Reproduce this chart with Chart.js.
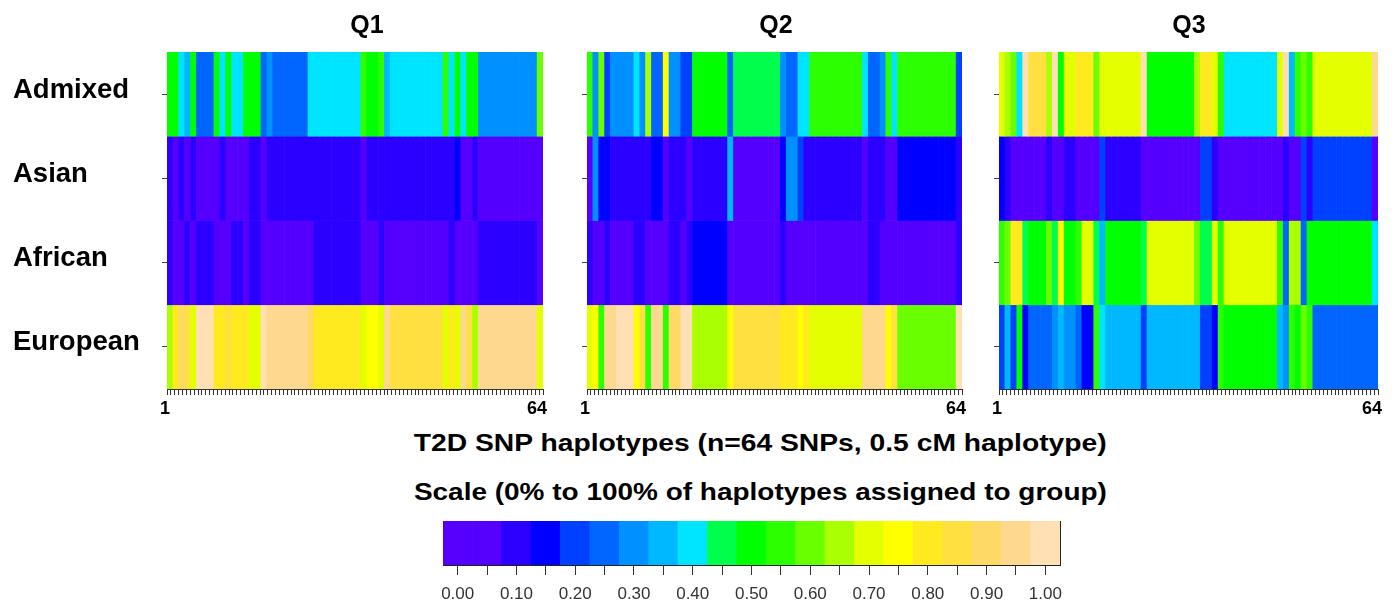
<!DOCTYPE html>
<html><head><meta charset="utf-8">
<script src="https://cdn.jsdelivr.net/npm/chart.js@4.4.1/dist/chart.umd.min.js"></script>
<style>
html,body{margin:0;padding:0;background:#fff;}
body{width:1394px;height:607px;position:relative;overflow:hidden;font-family:'Liberation Sans',Arial,sans-serif;}
canvas{position:absolute;}
.t{position:absolute;font-weight:bold;white-space:nowrap;text-align:center;color:#000;}
.t span{display:inline-block;}
</style></head><body>
<canvas id="q1" width="559" height="425" style="left:0px;top:0px"></canvas>
<canvas id="q2" width="404" height="425" style="left:574px;top:0px"></canvas>
<canvas id="q3" width="408" height="425" style="left:986px;top:0px"></canvas>
<canvas id="cb" width="650" height="96" style="left:430px;top:511px"></canvas>
<div class="t" style="left:267px;width:200px;top:12px;font-size:25px;line-height:25px">Q1</div>
<div class="t" style="left:676px;width:200px;top:12px;font-size:25px;line-height:25px">Q2</div>
<div class="t" style="left:1089px;width:200px;top:12px;font-size:25px;line-height:25px">Q3</div>
<div class="t" style="left:260px;width:1000px;top:431px;font-size:24px;line-height:24px"><span class="fit">T2D SNP haplotypes (n=64 SNPs, 0.5 cM haplotype)</span></div>
<div class="t" style="left:260px;width:1000px;top:480px;font-size:24px;line-height:24px"><span class="fit">Scale (0% to 100% of haplotypes assigned to group)</span></div>
<script>
// ---- data ----
const rowNames = ['Admixed', 'Asian', 'African', 'European'];
const snpLabels = Array.from({length: 64}, (_, i) => String(i + 1));
const snpTickLabels = ['1', '64'];

const q1Admixed = [0.50,0.50,0.40,0.35,0.50,0.25,0.25,0.25,0.50,0.40, 0.50,0.40,0.40,0.50,0.50,0.50,0.25,0.30,0.25,0.25, 0.25,0.25,0.25,0.25,0.40,0.40,0.40,0.40,0.40,0.40, 0.40,0.40,0.40,0.55,0.50,0.50,0.55,0.35,0.40,0.40, 0.40,0.40,0.40,0.40,0.40,0.40,0.40,0.55,0.40,0.50, 0.40,0.50,0.50,0.30,0.30,0.30,0.30,0.30,0.30,0.30, 0.30,0.30,0.30,0.60];
const q1Asian = [0.10,0.05,0.10,0.05,0.10,0.05,0.05,0.05,0.05,0.10, 0.05,0.05,0.05,0.05,0.10,0.10,0.05,0.10,0.10,0.10, 0.10,0.10,0.10,0.10,0.10,0.10,0.10,0.10,0.10,0.10, 0.10,0.10,0.10,0.05,0.10,0.10,0.10,0.10,0.10,0.10, 0.10,0.10,0.10,0.10,0.10,0.10,0.10,0.10,0.10,0.15, 0.05,0.05,0.10,0.05,0.05,0.05,0.05,0.05,0.05,0.05, 0.05,0.05,0.05,0.05];
const q1African = [0.10,0.05,0.05,0.10,0.05,0.10,0.10,0.10,0.05,0.05, 0.05,0.10,0.10,0.05,0.10,0.10,0.05,0.05,0.05,0.05, 0.05,0.05,0.05,0.05,0.05,0.10,0.10,0.10,0.10,0.10, 0.10,0.10,0.10,0.05,0.05,0.05,0.10,0.05,0.05,0.05, 0.05,0.05,0.05,0.05,0.05,0.05,0.05,0.05,0.10,0.05, 0.05,0.05,0.05,0.10,0.10,0.10,0.10,0.10,0.10,0.10, 0.10,0.10,0.10,0.05];
const q1European = [0.65,0.80,0.90,0.85,0.70,1.00,1.00,1.00,0.80,0.80, 0.85,0.80,0.80,0.80,0.70,0.70,1.00,0.95,0.95,0.95, 0.95,0.95,0.95,0.95,0.90,0.80,0.80,0.80,0.80,0.80, 0.80,0.80,0.80,0.70,0.75,0.75,0.70,0.95,0.85,0.85, 0.85,0.85,0.85,0.85,0.85,0.85,0.85,0.70,0.80,0.70, 0.95,0.85,0.65,0.95,0.95,0.95,0.95,0.95,0.95,0.95, 0.95,0.95,0.95,0.70];

const q2Admixed = [0.55,0.30,0.60,0.20,0.30,0.30,0.30,0.30,0.40,0.30, 0.65,0.25,0.25,0.75,0.30,0.30,0.20,0.20,0.50,0.50, 0.50,0.50,0.50,0.50,0.25,0.45,0.45,0.45,0.45,0.45, 0.45,0.45,0.45,0.30,0.25,0.25,0.40,0.40,0.55,0.55, 0.55,0.55,0.55,0.55,0.55,0.55,0.55,0.40,0.25,0.25, 0.30,0.55,0.40,0.55,0.55,0.55,0.55,0.55,0.55,0.55, 0.55,0.55,0.55,0.20];
const q2Asian = [0.05,0.30,0.15,0.15,0.10,0.10,0.10,0.10,0.10,0.10, 0.10,0.15,0.15,0.05,0.10,0.10,0.10,0.05,0.10,0.10, 0.10,0.10,0.10,0.10,0.35,0.05,0.05,0.05,0.05,0.05, 0.05,0.05,0.05,0.15,0.30,0.30,0.20,0.10,0.10,0.10, 0.10,0.10,0.10,0.10,0.10,0.10,0.10,0.05,0.10,0.10, 0.10,0.05,0.05,0.15,0.15,0.15,0.15,0.15,0.15,0.15, 0.15,0.15,0.15,0.10];
const q2African = [0.10,0.05,0.05,0.10,0.05,0.05,0.05,0.05,0.10,0.10, 0.05,0.05,0.05,0.05,0.10,0.10,0.05,0.10,0.15,0.15, 0.15,0.15,0.15,0.15,0.05,0.05,0.05,0.05,0.05,0.05, 0.05,0.05,0.05,0.10,0.05,0.05,0.05,0.05,0.05,0.05, 0.05,0.05,0.05,0.05,0.05,0.05,0.05,0.05,0.10,0.10, 0.05,0.05,0.05,0.05,0.05,0.05,0.05,0.05,0.05,0.05, 0.05,0.05,0.05,0.10];
const q2European = [0.70,0.75,0.55,0.95,0.95,1.00,1.00,1.00,0.75,0.85, 0.55,0.95,0.95,0.55,0.90,0.90,1.00,1.00,0.65,0.65, 0.65,0.65,0.65,0.65,0.75,0.85,0.85,0.85,0.85,0.85, 0.85,0.85,0.85,0.80,0.80,0.80,0.75,0.80,0.70,0.70, 0.70,0.70,0.70,0.70,0.70,0.70,0.70,0.95,0.95,0.95, 0.95,0.75,0.85,0.60,0.60,0.60,0.60,0.60,0.60,0.60, 0.60,0.60,0.60,1.00];

const q3Admixed = [0.70,0.65,0.60,0.40,1.00,0.85,0.85,0.85,0.65,1.00, 0.50,0.70,0.70,0.80,0.80,0.80,0.60,0.70,0.70,0.70, 0.70,0.70,0.70,0.70,1.00,0.50,0.50,0.50,0.50,0.50, 0.50,0.50,0.50,0.65,0.80,0.80,0.70,0.55,0.40,0.40, 0.40,0.40,0.40,0.40,0.40,0.40,0.40,0.70,1.00,0.35, 0.55,0.60,0.55,0.70,0.70,0.70,0.70,0.70,0.70,0.70, 0.70,0.70,0.70,0.95];
const q3Asian = [0.15,0.10,0.05,0.05,0.05,0.05,0.05,0.05,0.10,0.05, 0.05,0.10,0.10,0.05,0.05,0.05,0.05,0.20,0.10,0.10, 0.10,0.10,0.10,0.10,0.05,0.05,0.05,0.05,0.05,0.05, 0.05,0.05,0.05,0.05,0.20,0.20,0.10,0.05,0.05,0.05, 0.05,0.05,0.05,0.05,0.05,0.05,0.05,0.05,0.10,0.05, 0.05,0.20,0.10,0.20,0.20,0.20,0.20,0.20,0.20,0.20, 0.20,0.20,0.20,0.05];
const q3African = [0.55,0.60,0.80,0.80,0.45,0.50,0.50,0.50,0.60,0.45, 0.75,0.50,0.50,0.55,0.70,0.70,0.45,0.35,0.50,0.50, 0.50,0.50,0.50,0.50,0.45,0.70,0.70,0.70,0.70,0.70, 0.70,0.70,0.70,0.60,0.45,0.45,0.70,0.55,0.70,0.70, 0.70,0.70,0.70,0.70,0.70,0.70,0.70,0.55,0.25,0.65, 0.65,0.25,0.50,0.50,0.50,0.50,0.50,0.50,0.50,0.50, 0.50,0.50,0.50,0.40];
const q3European = [0.20,0.35,0.20,0.50,0.15,0.25,0.25,0.25,0.25,0.30, 0.35,0.30,0.30,0.25,0.15,0.15,0.55,0.40,0.35,0.35, 0.35,0.35,0.35,0.35,0.20,0.35,0.35,0.35,0.35,0.35, 0.35,0.35,0.35,0.35,0.20,0.20,0.15,0.55,0.50,0.50, 0.50,0.50,0.50,0.50,0.50,0.50,0.50,0.35,0.30,0.55, 0.50,0.60,0.55,0.25,0.25,0.25,0.25,0.25,0.25,0.25, 0.25,0.25,0.25,0.25];

const scaleValues = [0.00,0.05,0.10,0.15,0.20,0.25,0.30,0.35,0.40,0.45,0.50,0.55,0.60,0.65,0.70,0.75,0.80,0.85,0.90,0.95,1.00];
const scaleTicks = ['0.00','0.05','0.10','0.15','0.20','0.25','0.30','0.35','0.40','0.45','0.50','0.55','0.60','0.65','0.70','0.75','0.80','0.85','0.90','0.95','1.00'];
const scaleColors = ['#5500ff','#5500ff','#2b00ff','#0000ff','#0040ff','#0066ff','#0090ff','#00b8ff','#00e5ff','#00ff4d','#00ff00','#2bff00','#6aff00','#aaff00','#e3ff00','#ffff00','#ffea20','#ffe040','#ffd966','#ffd890','#ffdfb4'];

// ---- drawing ----
Chart.defaults.font.family = "'Liberation Sans', Arial, sans-serif";
function colorFor(v) { return scaleColors[Math.round(v / 0.05)]; }

function rowDataset(values, rowIdx) {
  const lo = 3 - rowIdx;
  return {
    label: rowNames[rowIdx],
    data: values.map(() => [lo, lo + 1]),
    backgroundColor: values.map(colorFor),
    borderWidth: 0, grouped: false, barPercentage: 1, categoryPercentage: 1,
    xAxisID: 'x', yAxisID: 'y'
  };
}

function makePanel(id, rows, showLabels, padLeft, yWidth) {
  new Chart(document.getElementById(id), {
    type: 'bar',
    data: { labels: snpLabels, datasets: rows.map((r, i) => rowDataset(r, i)) },
    options: {
      responsive: false, animation: false, devicePixelRatio: 1, events: [],
      layout: { padding: { left: padLeft, right: 16, top: 52, bottom: 0 } },
      plugins: { legend: { display: false }, tooltip: { enabled: false }, title: { display: false } },
      scales: {
        x: { type: 'category', display: false, offset: true },
        xt: {
          type: 'linear', position: 'bottom', min: 0, max: 96,
          afterBuildTicks: s => { s.ticks = Array.from({length: 97}, (_, i) => ({ value: i })); },
          afterFit: s => { s.height = 36; },
          border: { display: true, color: '#333', width: 1 },
          grid: { drawOnChartArea: false, tickLength: 6, color: '#333', lineWidth: 1 },
          ticks: {
            autoSkip: false, maxRotation: 0, minRotation: 0, padding: 3, labelOffset: -4,
            font: { size: 18, weight: 'bold' }, color: '#000',
            callback: v => v === 0 ? snpTickLabels[0] : (v === 96 ? snpTickLabels[1] : '')
          }
        },
        y: {
          type: 'linear', position: 'left', min: 0, max: 4,
          afterBuildTicks: s => { s.ticks = [3.5, 2.5, 1.5, 0.5].map(v => ({ value: v })); },
          afterFit: s => { s.width = yWidth; },
          border: { display: false },
          grid: { drawOnChartArea: false, tickLength: 5, color: '#444', lineWidth: 1 },
          ticks: {
            display: showLabels, autoSkip: false, crossAlign: 'far', padding: 0, labelOffset: -4,
            font: { size: 27.5, weight: 'bold' }, color: '#000',
            callback: v => rowNames[3 - Math.floor(v)]
          }
        }
      }
    }
  });
}

makePanel('q1', [q1Admixed, q1Asian, q1African, q1European], true, 13, 154);
makePanel('q2', [q2Admixed, q2Asian, q2African, q2European], false, 8, 5);
makePanel('q3', [q3Admixed, q3Asian, q3African, q3European], false, 8, 5);

new Chart(document.getElementById('cb'), {
  type: 'bar',
  data: { labels: scaleTicks, datasets: [{
    data: scaleValues.map(() => [0, 1]), backgroundColor: scaleColors,
    borderWidth: 0, barPercentage: 1, categoryPercentage: 1
  }] },
  options: {
    responsive: false, animation: false, devicePixelRatio: 1, events: [],
    layout: { padding: { left: 13, right: 20, top: 10, bottom: 0 } },
    plugins: { legend: { display: false }, tooltip: { enabled: false } },
    scales: {
      x: {
        type: 'category', offset: true,
        afterFit: s => { s.height = 42; },
        grid: { offset: false, drawOnChartArea: false, tickLength: 10, color: '#333' },
        border: { display: true, color: '#222' },
        ticks: { autoSkip: false, maxRotation: 0, minRotation: 0, padding: 9, font: { size: 17 }, color: '#333',
          callback: (v, i) => i % 2 === 0 ? scaleTicks[i] : '' }
      },
      y: {
        type: 'linear', position: 'right', min: 0, max: 1,
        afterFit: s => { s.width = 0; },
        grid: { display: false, drawTicks: false }, ticks: { display: false },
        border: { display: true, color: '#222' }
      }
    }
  }
});

// stretch the two long titles to the reference width
document.querySelectorAll('.fit').forEach(el => {
  const w = el.getBoundingClientRect().width;
  el.style.transform = 'scaleX(' + (693 / w).toFixed(4) + ')';
});
</script>
</body></html>
